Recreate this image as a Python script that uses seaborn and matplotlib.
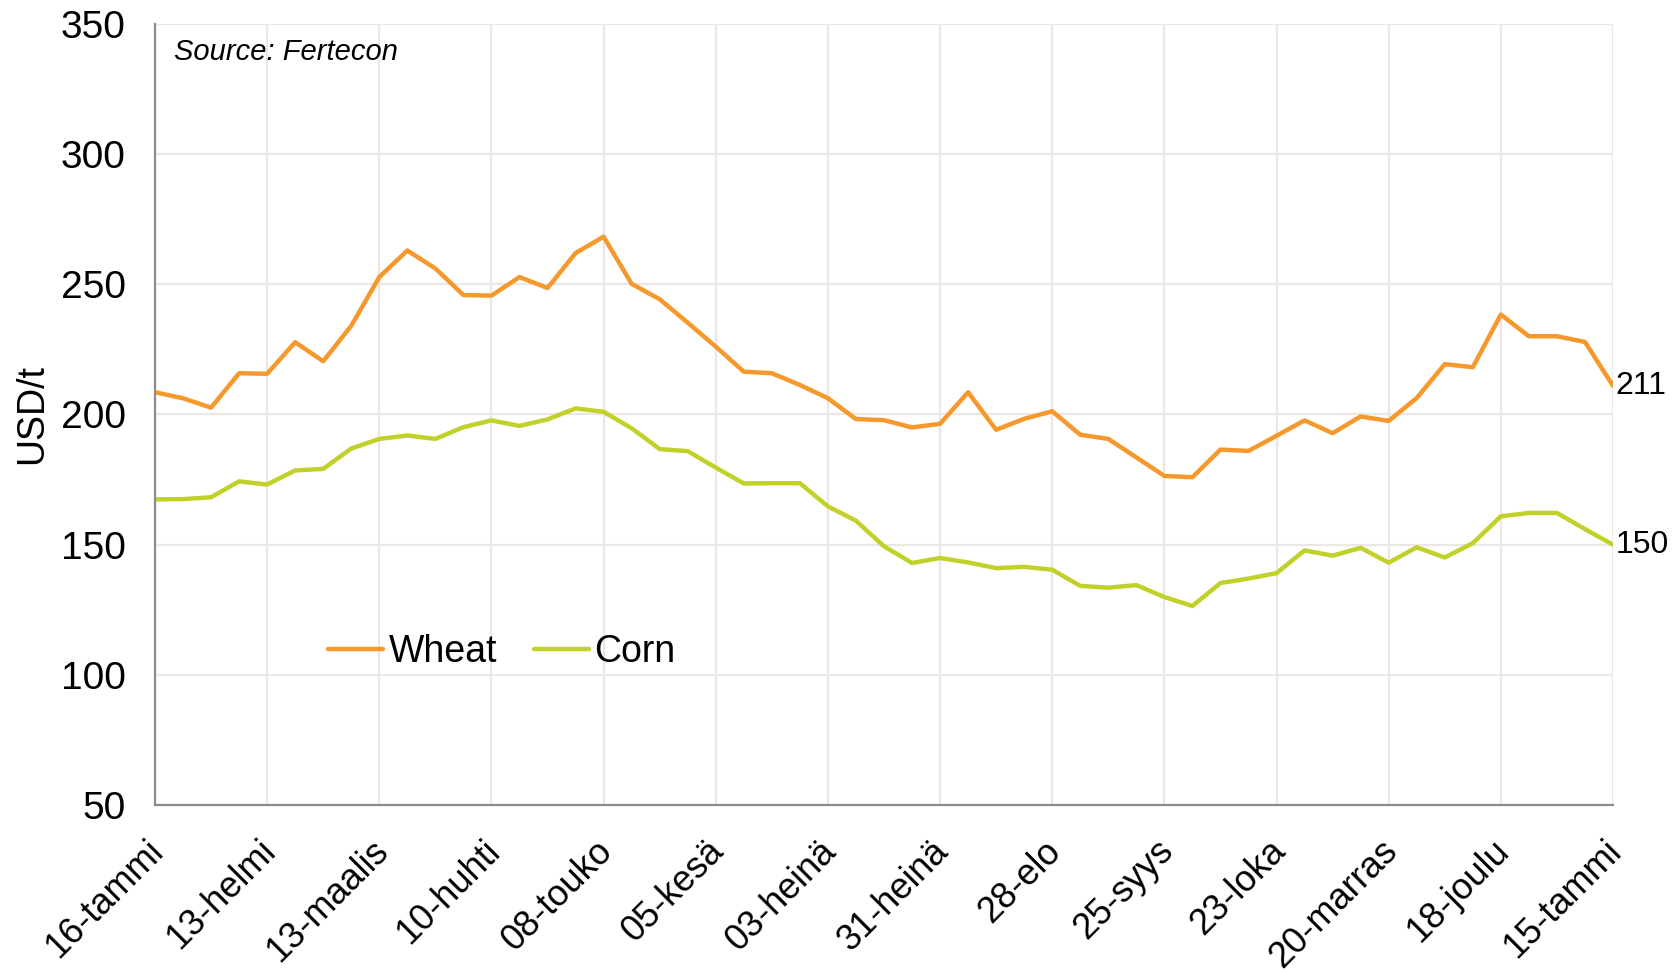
import matplotlib
matplotlib.use("Agg")
import matplotlib.pyplot as plt
import matplotlib.transforms as mtransforms
import pandas as pd
import seaborn as sns

# --- dados (USD/t, semanal) ---
wheat = [208.5, 206.2, 202.6, 215.8, 215.6, 227.7, 220.4, 234.0, 252.7, 262.9,
         256.0, 245.8, 245.6, 252.7, 248.5, 261.9, 268.2, 250.1, 244.2, 235.2,
         226.0, 216.4, 215.8, 211.3, 206.2, 198.2, 197.8, 195.0, 196.4, 208.5,
         194.1, 198.3, 201.2, 192.2, 190.6, 183.5, 176.4, 175.9, 186.5, 186.0,
         191.8, 197.7, 192.8, 199.2, 197.5, 206.3, 219.3, 218.1, 238.3, 230.0,
         230.0, 227.8, 211.0]
corn = [167.4, 167.5, 168.2, 174.3, 173.1, 178.5, 179.1, 186.9, 190.6, 191.9,
        190.6, 195.1, 197.7, 195.6, 198.1, 202.3, 201.0, 194.7, 186.7, 185.9,
        179.6, 173.5, 173.6, 173.6, 164.7, 159.2, 149.4, 143.0, 144.9, 143.2,
        141.0, 141.5, 140.4, 134.2, 133.5, 134.5, 129.9, 126.5, 135.3, 137.0,
        139.1, 147.8, 145.8, 148.8, 143.1, 149.0, 145.1, 150.6, 160.9, 162.2,
        162.2, 156.0, 150.0]
tick_labels = ['16-tammi', '13-helmi', '13-maalis', '10-huhti', '08-touko',
               '05-kesä', '03-heinä', '31-heinä', '28-elo', '25-syys',
               '23-loka', '20-marras', '18-joulu', '15-tammi']
series = ['Wheat', 'Corn']
colors = {'Wheat': '#F6982C', 'Corn': '#C2D12A'}

weeks = list(range(len(wheat)))
df = pd.DataFrame({
    'week': weeks * 2,
    'price': wheat + corn,
    'series': ['Wheat'] * len(wheat) + ['Corn'] * len(corn),
})

sns.set_style("white")
plt.rcParams['font.family'] = ['Liberation Sans', 'DejaVu Sans']
plt.rcParams['text.color'] = 'black'
plt.rcParams['axes.labelcolor'] = 'black'

fig = plt.figure(figsize=(16.79, 9.72), dpi=100)
ax = fig.add_axes([0.0923, 0.1715, 0.8684, 0.8043])

sns.lineplot(data=df, x='week', y='price', hue='series', hue_order=series,
             palette=colors, linewidth=3.2, ax=ax)

ax.set_xlim(0, 52)
ax.set_ylim(50, 350)
ax.set_xticks(range(0, 53, 4))
ax.set_xticklabels(tick_labels, rotation=45, ha='right', rotation_mode='anchor',
                   fontsize=26)
ax.set_yticks(range(50, 351, 50))

ax.grid(True, color='#ECE7E4', linewidth=1.6)
ax.set_axisbelow(True)
for s in ['top', 'right']:
    ax.spines[s].set_visible(False)
for s in ['left', 'bottom']:
    ax.spines[s].set_color('#8C8C8C')
    ax.spines[s].set_linewidth(1.6)
ax.tick_params(axis='both', colors='#8C8C8C', width=1.4, labelcolor='black')
ax.tick_params(axis='y', length=8, pad=13, labelsize=28)
ax.tick_params(axis='x', length=9, pad=8)

# empurra os rótulos do eixo x um pouco para baixo/esquerda
shift = mtransforms.ScaledTranslation(-0.09, -0.045, fig.dpi_scale_trans)
for lab in ax.get_xticklabels():
    lab.set_transform(lab.get_transform() + shift)

ax.set_xlabel('')
ax.set_ylabel('USD/t', fontsize=27, labelpad=8)

# valores finais
for vals in [wheat, corn]:
    ax.annotate(f"{vals[-1]:.0f}", xy=(weeks[-1], vals[-1]), xytext=(2, 0),
                textcoords='offset points', va='center', ha='left',
                fontsize=23, annotation_clip=False)

ax.text(0.013, 0.963, 'Source: Fertecon', transform=ax.transAxes,
        fontsize=21, style='italic', va='center', ha='left')

ax.legend(loc='center left', bbox_to_anchor=(0.119, 0.196), ncol=2, frameon=False,
          fontsize=27, handlelength=1.45, handletextpad=0.15, columnspacing=1.0,
          borderpad=0, borderaxespad=0)

fig.savefig('out.png', dpi=100)
